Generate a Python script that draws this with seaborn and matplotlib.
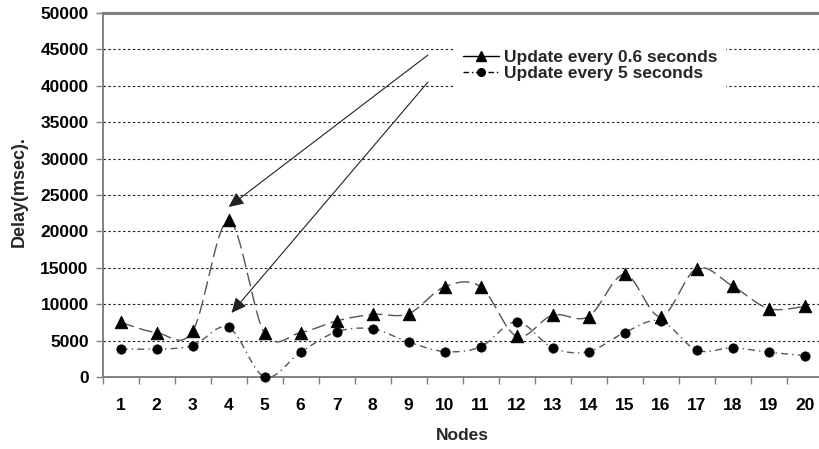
import numpy as np
import pandas as pd
import matplotlib
matplotlib.use("Agg")
import matplotlib.pyplot as plt
import seaborn as sns
from matplotlib.lines import Line2D

# ---------------- data ----------------
nodes = list(range(1, 21))
update_06 = [7500, 6100, 6300, 21500, 6000, 6100, 7700, 8600, 8700, 12400,
             12400, 5600, 8500, 8300, 14100, 8300, 14900, 12500, 9400, 9700]
update_5 = [3850, 3850, 4300, 6800, 0, 3400, 6200, 6600, 4800, 3500,
            4150, 7600, 4000, 3500, 6100, 7700, 3700, 4000, 3400, 2950]
series_labels = ["Update every 0.6 seconds", "Update every 5 seconds"]
y_ticks = list(range(0, 50001, 5000))
x_title = "Nodes"
y_title = "Delay(msec)."

# ---------------- style ----------------
sns.set_theme(style="white")
plt.rcParams["font.family"] = ["Liberation Sans", "DejaVu Sans"]
plt.rcParams["font.weight"] = "bold"

GRAY = "#808080"


def smooth(x, y, n=30):
    """Excel-like smoothed curve (Catmull-Rom / Bezier) through the points."""
    P = np.column_stack([np.asarray(x, float), np.asarray(y, float)])
    ext = np.vstack([P[0], P, P[-1]])
    t = np.linspace(0, 1, n)[:, None]
    out = []
    for i in range(len(P) - 1):
        p0, p3 = ext[i + 1], ext[i + 2]
        c1 = p0 + (ext[i + 2] - ext[i]) / 6.0
        c2 = p3 - (ext[i + 3] - ext[i + 1]) / 6.0
        seg = ((1 - t) ** 3) * p0 + 3 * ((1 - t) ** 2) * t * c1 \
            + 3 * (1 - t) * t ** 2 * c2 + t ** 3 * p3
        out.append(seg if i == 0 else seg[1:])
    return np.vstack(out)


fig = plt.figure(figsize=(8.19, 4.49), dpi=100)
ax = fig.add_axes([102.6 / 819, 1 - 377 / 449, 720 / 819, 364 / 449])

df06 = pd.DataFrame({"Nodes": nodes, "Delay": update_06, "Series": series_labels[0]})
df5 = pd.DataFrame({"Nodes": nodes, "Delay": update_5, "Series": series_labels[1]})

# smoothed connecting lines
c06 = smooth(df06["Nodes"], df06["Delay"])
c5 = smooth(df5["Nodes"], df5["Delay"])
ax.plot(c06[:, 0], c06[:, 1], color="#555555", lw=1.0,
        linestyle=(0, (10, 4)), zorder=2, clip_on=False)
ax.plot(c5[:, 0], c5[:, 1], color="#555555", lw=1.0,
        linestyle=(0, (5, 3, 1, 3)), zorder=2, clip_on=False)

# markers
sns.scatterplot(data=df06, x="Nodes", y="Delay", marker="^", color="black",
                edgecolor="black", s=80, legend=False, ax=ax, zorder=3,
                clip_on=False)
sns.scatterplot(data=df5, x="Nodes", y="Delay", marker="o", color="black",
                edgecolor="black", s=45, legend=False, ax=ax, zorder=3,
                clip_on=False)

# axes
ax.set_xlim(0.5, 20.5)
ax.set_ylim(0, 50000)
ax.set_yticks(y_ticks)
ax.set_yticklabels([str(v) for v in y_ticks], fontsize=12.5, fontweight="bold")
ax.set_xticks(nodes)
ax.set_xticklabels([str(n) for n in nodes], fontsize=12.5, fontweight="bold")
ax.set_xticks(np.arange(0.5, 21.0, 1.0), minor=True)
ax.tick_params(axis="x", which="major", length=0, pad=15, colors="black")
ax.tick_params(axis="x", which="minor", length=5, width=1, color=GRAY,
               direction="out", bottom=True)
ax.tick_params(axis="y", which="major", length=5, width=1, color=GRAY,
               direction="out", pad=5, left=True, labelcolor="black")

ax.yaxis.grid(True, linestyle=(0, (2.2, 2.2)), color="#222222", lw=0.8)
ax.xaxis.grid(False)
ax.set_axisbelow(True)

for side in ["left", "bottom"]:
    ax.spines[side].set_color(GRAY)
    ax.spines[side].set_linewidth(1.4)
    ax.spines[side].set_zorder(1)
ax.spines["top"].set_color(GRAY)
ax.spines["top"].set_linewidth(2.2)
ax.spines["right"].set_visible(False)

ax.set_xlabel(x_title, fontsize=12.5, fontweight="bold")
ax.set_ylabel(y_title, fontsize=13, fontweight="bold")
ax.xaxis.set_label_coords(0.5, -(428 - 377) / 364)
ax.yaxis.set_label_coords((28 - 102.6) / 720, (377 - 192) / 364)

# legend
handles = [
    Line2D([], [], color="black", lw=1.0, linestyle="-", marker="^",
           markersize=7, markerfacecolor="black"),
    Line2D([], [], color="black", lw=1.0, linestyle=(0, (4, 2, 1, 2)),
           marker="o", markersize=5.5, markerfacecolor="black"),
]
leg = ax.legend(handles, series_labels, loc="center left",
                bbox_to_anchor=((455 - 102.6) / 720, (377 - 65.5) / 364),
                borderaxespad=0, frameon=True, fancybox=False,
                prop={"size": 12.5, "weight": "bold"}, handlelength=2.1,
                handletextpad=0.3, labelspacing=0.0, borderpad=0.45)
leg.get_frame().set_facecolor("white")
leg.get_frame().set_edgecolor("none")
leg.get_frame().set_alpha(1)
leg.set_zorder(5)

# callout arrows from the legend to node 4
arrow_props = dict(arrowstyle="-|>,head_length=0.65,head_width=0.3",
                   color="#222222", lw=0.8, mutation_scale=14,
                   shrinkA=0, shrinkB=0, facecolor="black")
ax.annotate("", xy=(nodes[3], update_06[3] + 1850),
            xytext=((428 - 102.6) / 720, (377 - 55) / 364),
            xycoords="data", textcoords="axes fraction",
            arrowprops=arrow_props, zorder=4)
ax.annotate("", xy=(nodes[3] + 0.08, update_5[3] + 2000),
            xytext=((428 - 102.6) / 720, (377 - 82) / 364),
            xycoords="data", textcoords="axes fraction",
            arrowprops=arrow_props, zorder=4)

fig.savefig("out.png", dpi=100)
